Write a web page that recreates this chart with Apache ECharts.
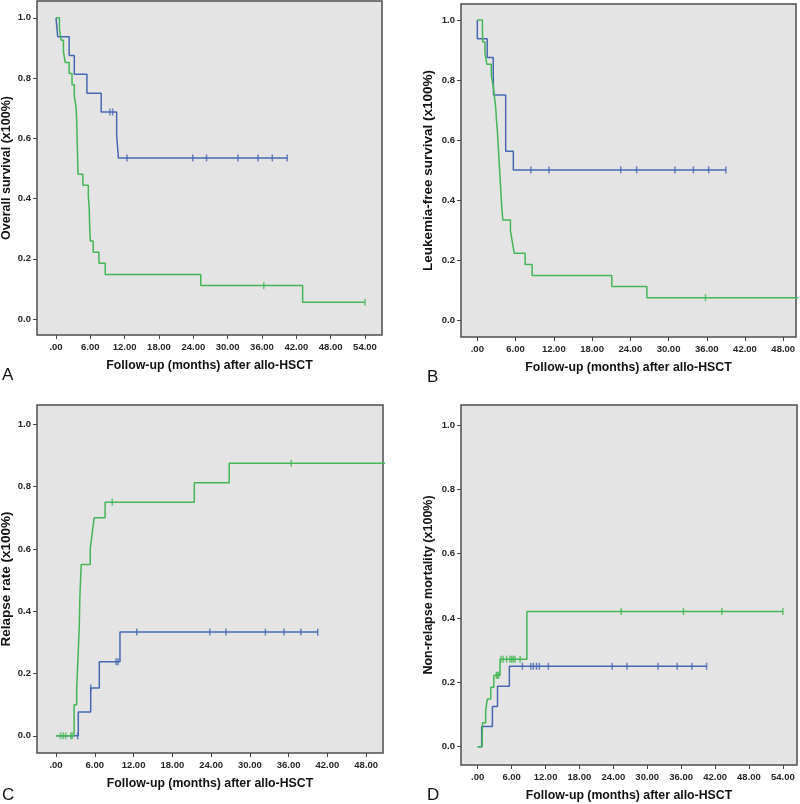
<!DOCTYPE html>
<html>
<head>
<meta charset="utf-8">
<script src="https://cdn.jsdelivr.net/npm/echarts@6/dist/echarts.min.js"></script>
<style>
html,body{margin:0;padding:0;background:#fff;}
#chart{width:800px;height:804px;}
</style>
</head>
<body>
<div id="chart"></div>
<script>
// ---------- data ----------
// Panel A: Overall survival
const aBlueT = [0, 0.3, 2.3, 3.2, 5.4, 7.9, 10.6, 10.9, 40.4];
const aBlueS = [1, 0.9375, 0.875, 0.8125, 0.75, 0.6875, 0.611, 0.535, 0.535];
const aBlueCens = [9.4, 9.9, 12.4, 23.9, 26.3, 31.8, 35.3, 37.8, 40.4];
const aGreenT = [0, 0.6, 0.9, 1.3, 1.6, 2.3, 2.8, 3.2, 3.5, 3.6, 3.65, 3.7, 3.75, 3.8, 3.85, 4.7, 5.65, 5.8, 5.85, 5.9, 6.0, 6.5, 7.5, 8.6, 25.3, 43.1, 54.0];
const aGreenS = [1, 0.963, 0.926, 0.889, 0.852, 0.815, 0.778, 0.741, 0.704, 0.667, 0.630, 0.593, 0.556, 0.519, 0.481, 0.444, 0.407, 0.370, 0.333, 0.296, 0.259, 0.222, 0.185, 0.148, 0.111, 0.056, 0.056];
const aGreenCens = [36.3, 54.0];

// Panel B: Leukemia-free survival
const bBlueT = [0, 0, 1.55, 2.5, 2.55, 4.45, 5.65, 39.0];
const bBlueS = [1, 0.9375, 0.875, 0.8125, 0.75, 0.5625, 0.5, 0.5];
const bBlueCens = [8.4, 11.25, 22.5, 25.0, 31.0, 33.9, 36.3, 39.0];
const bGreenT = [0, 0.8, 0.85, 1.2, 1.5, 2.2, 2.5, 2.7, 2.9, 3.0, 3.15, 3.25, 3.35, 3.45, 3.55, 3.65, 3.75, 3.85, 4.0, 5.2, 5.5, 5.8, 7.5, 8.6, 21.1, 26.6, 52];
const bGreenS = [1, 0.963, 0.926, 0.889, 0.852, 0.815, 0.778, 0.741, 0.704, 0.667, 0.630, 0.593, 0.556, 0.519, 0.481, 0.444, 0.407, 0.370, 0.333, 0.296, 0.259, 0.222, 0.185, 0.148, 0.111, 0.074, 0.074];
const bGreenCens = [35.8];

// Panel C: Relapse rate
const cBlueT = [0, 3.45, 5.37, 6.7, 9.9, 40.5];
const cBlueS = [0, 0.077, 0.154, 0.238, 0.333, 0.333];
const cBlueCens = [3.35, 5.37, 9.3, 9.6, 12.5, 23.8, 26.3, 32.4, 35.3, 37.9, 40.5];
const cGreenT = [0, 2.8, 3.2, 3.3, 3.4, 3.5, 3.6, 3.65, 3.7, 3.8, 3.9, 5.3, 5.6, 5.9, 7.6, 21.4, 26.8, 52];
const cGreenS = [0, 0.10, 0.15, 0.20, 0.25, 0.30, 0.35, 0.40, 0.45, 0.50, 0.55, 0.60, 0.65, 0.70, 0.75, 0.8125, 0.875, 0.875];
const cGreenCens = [0.7, 1.1, 1.5, 2.3, 2.5, 8.7, 36.4];

// Panel D: Non-relapse mortality
const dBlueT = [0, 0.7, 2.6, 3.5, 5.6, 40.5];
const dBlueS = [0, 0.0625, 0.125, 0.1875, 0.25, 0.25];
const dBlueCens = [7.9, 9.4, 9.85, 10.4, 10.9, 12.5, 23.8, 26.4, 31.9, 35.3, 37.9, 40.5];
const dGreenT = [0, 0.8, 0.85, 1.4, 1.7, 2.3, 2.85, 3.95, 8.7, 54.0];
const dGreenS = [0, 0.037, 0.074, 0.111, 0.148, 0.185, 0.222, 0.272, 0.42, 0.42];
const dGreenCens = [3.3, 3.5, 3.7, 4.1, 4.5, 5.1, 5.7, 6.0, 6.3, 6.6, 7.5, 25.4, 36.4, 43.2, 54.0];

// ticks
const xTicks54 = [0, 6, 12, 18, 24, 30, 36, 42, 48, 54];
const xLabels54 = ['.00', '6.00', '12.00', '18.00', '24.00', '30.00', '36.00', '42.00', '48.00', '54.00'];
const xTicks48 = [0, 6, 12, 18, 24, 30, 36, 42, 48];
const xLabels48 = ['.00', '6.00', '12.00', '18.00', '24.00', '30.00', '36.00', '42.00', '48.00'];
const yTicks = [0, 0.2, 0.4, 0.6, 0.8, 1.0];
const yLabels = ['0.0', '0.2', '0.4', '0.6', '0.8', '1.0'];

const xName = 'Follow-up (months) after allo-HSCT';
const yNames = ['Overall survival (x100%)', 'Leukemia-free survival (x100%)', 'Relapse rate (x100%)', 'Non-relapse mortality (x100%)'];
const panelLetters = ['A', 'B', 'C', 'D'];

// ---------- helpers ----------
const BLUE = '#4668b2';
const GREEN = '#44b656';
const FONT = 'Liberation Sans, Arial, sans-serif';

function curve(t, s) { return t.map((x, i) => [x, s[i]]); }
function valueAt(c, t, s) {
  let v = s[0];
  for (let i = 0; i < t.length; i++) { if (t[i] <= c) v = s[i]; }
  return v;
}
function cens(ct, t, s) { return ct.map(c => [c, valueAt(c, t, s)]); }

const grids = [
  { left: 37, top: 1, width: 345, height: 334 },
  { left: 461, top: 4, width: 335, height: 333 },
  { left: 37, top: 405, width: 346, height: 348 },
  { left: 461, top: 405, width: 336, height: 360 }
];
const xRanges = [[-3.32, 56.97], [-2.56, 50.0], [-2.94, 50.6], [-2.96, 56.5]];
const yRanges = [[-0.053, 1.056], [-0.057, 1.053], [-0.055, 1.062], [-0.057, 1.062]];
const xTickSets = [xTicks54, xTicks48, xTicks48, xTicks54];
const xLabelSets = [xLabels54, xLabels48, xLabels48, xLabels54];
const yNameGaps = [24, 26, 24, 26];
const yNameSizes = [12.5, 13.5, 13.5, 12.5];

const option = {
  animation: false,
  backgroundColor: '#ffffff',
  grid: grids.map(g => Object.assign({
    show: true, backgroundColor: '#e4e4e4', borderColor: '#4d4d4d', borderWidth: 1.5,
    containLabel: false, outerBoundsMode: 'none'
  }, g)),
  xAxis: grids.map((g, i) => ({
    type: 'value', gridIndex: i, min: xRanges[i][0], max: xRanges[i][1],
    axisLine: { show: false, onZero: false },
    splitLine: { show: false },
    axisTick: { show: true, customValues: xTickSets[i], length: 4, lineStyle: { color: '#444' } },
    axisLabel: {
      customValues: xTickSets[i], margin: 7, fontSize: 9.5, fontWeight: 'bold', color: '#262626', fontFamily: FONT,
      formatter: v => xLabelSets[i][xTickSets[i].indexOf(v)]
    },
    name: xName, nameLocation: 'middle', nameGap: 25,
    nameTextStyle: { fontSize: 12.3, fontWeight: 'bold', color: '#111', fontFamily: FONT }
  })),
  yAxis: grids.map((g, i) => ({
    type: 'value', gridIndex: i, min: yRanges[i][0], max: yRanges[i][1],
    axisLine: { show: false, onZero: false },
    splitLine: { show: false },
    axisTick: { show: true, customValues: yTicks, length: 4, lineStyle: { color: '#444' } },
    axisLabel: {
      customValues: yTicks, margin: 6, fontSize: 9.5, fontWeight: 'bold', color: '#262626', fontFamily: FONT,
      formatter: v => yLabels[yTicks.indexOf(v)]
    },
    name: yNames[i], nameLocation: 'middle', nameRotate: 90, nameGap: yNameGaps[i],
    nameTextStyle: { fontSize: yNameSizes[i], fontWeight: 'bold', color: '#111', fontFamily: FONT }
  })),
  graphic: [
    { type: 'text', left: 2, top: 367, style: { text: panelLetters[0], fontSize: 17, fill: '#111', fontFamily: FONT } },
    { type: 'text', left: 427, top: 369, style: { text: panelLetters[1], fontSize: 17, fill: '#111', fontFamily: FONT } },
    { type: 'text', left: 2, top: 787, style: { text: panelLetters[2], fontSize: 17, fill: '#111', fontFamily: FONT } },
    { type: 'text', left: 427, top: 787, style: { text: panelLetters[3], fontSize: 17, fill: '#111', fontFamily: FONT } }
  ],
  series: []
};

const panels = [
  [aBlueT, aBlueS, aBlueCens, aGreenT, aGreenS, aGreenCens],
  [bBlueT, bBlueS, bBlueCens, bGreenT, bGreenS, bGreenCens],
  [cBlueT, cBlueS, cBlueCens, cGreenT, cGreenS, cGreenCens],
  [dBlueT, dBlueS, dBlueCens, dGreenT, dGreenS, dGreenCens]
];
panels.forEach((p, i) => {
  const [bt, bs, bc, gt, gs, gc] = p;
  const common = { xAxisIndex: i, yAxisIndex: i, silent: true };
  option.series.push(Object.assign({
    type: 'line', step: 'end', showSymbol: false, data: curve(bt, bs),
    lineStyle: { color: BLUE, width: 1.5 }, z: 2
  }, common));
  option.series.push(Object.assign({
    type: 'line', step: 'end', showSymbol: false, data: curve(gt, gs),
    lineStyle: { color: GREEN, width: 1.5 }, z: 3
  }, common));
  option.series.push(Object.assign({
    type: 'scatter', data: cens(bc, bt, bs), symbol: 'rect', symbolSize: [1.5, 7],
    itemStyle: { color: BLUE }, z: 4
  }, common));
  option.series.push(Object.assign({
    type: 'scatter', data: cens(gc, gt, gs), symbol: 'rect', symbolSize: [1.5, 7],
    itemStyle: { color: GREEN }, z: 4
  }, common));
});

const chart = echarts.init(document.getElementById('chart'), null, { renderer: 'canvas' });
chart.setOption(option);
</script>
</body>
</html>
